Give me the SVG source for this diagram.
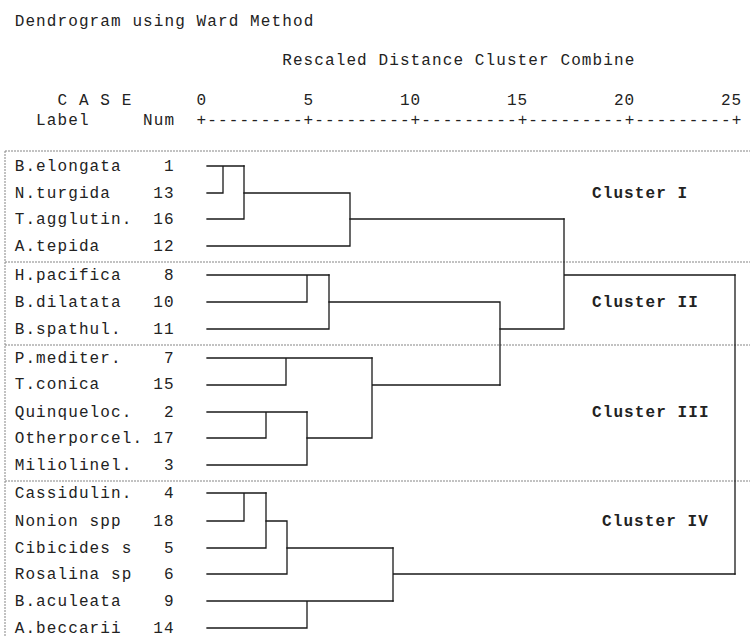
<svg xmlns="http://www.w3.org/2000/svg" width="750" height="637" viewBox="0 0 750 637">
<style>
  text { font-family: "Liberation Mono", "DejaVu Sans Mono", monospace; font-size: 16px; letter-spacing: 1.1px; fill: #222222; }
  .b { font-weight: bold; }
  .sep { stroke: #858585; stroke-width: 1; stroke-dasharray: 2 1; fill: none; }
  .ln { stroke: #1a1a1a; stroke-width: 1.3; fill: none; stroke-linecap: square; }
</style>
<rect width="750" height="637" fill="#ffffff"/>

<g id="header">
  <text x="14.7" y="25.5">Dendrogram using Ward Method</text>
  <text x="282.2" y="65">Rescaled Distance Cluster Combine</text>
  <text x="57.5" y="105">C A S E</text>
  <text x="196.6" y="105">0</text>
  <text x="303.6" y="105">5</text>
  <text x="399.9" y="105">10</text>
  <text x="506.9" y="105">15</text>
  <text x="613.9" y="105">20</text>
  <text x="720.9" y="105">25</text>
  <text x="36.1" y="125">Label</text>
  <text x="143.1" y="125">Num</text>
  <text x="196.6" y="125">+---------+---------+---------+---------+---------+</text>
</g>

<g id="separators">
  <line class="sep" x1="5" y1="151" x2="750" y2="151"/>
  <line class="sep" x1="5" y1="262" x2="750" y2="262"/>
  <line class="sep" x1="5" y1="345" x2="750" y2="345"/>
  <line class="sep" x1="5" y1="481" x2="750" y2="481"/>
  <line class="sep" x1="5" y1="151" x2="5" y2="637"/>
</g>

<g id="leaf-1"><text x="14.7" y="171">B.elongata</text><text x="164" y="171">1</text></g>
<g id="leaf-13"><text x="14.7" y="198">N.turgida</text><text x="153.3" y="198">13</text></g>
<g id="leaf-16"><text x="14.7" y="224">T.agglutin.</text><text x="153.3" y="224">16</text></g>
<g id="leaf-12"><text x="14.7" y="251">A.tepida</text><text x="153.3" y="251">12</text></g>
<g id="leaf-8"><text x="14.7" y="280">H.pacifica</text><text x="164" y="280">8</text></g>
<g id="leaf-10"><text x="14.7" y="307">B.dilatata</text><text x="153.3" y="307">10</text></g>
<g id="leaf-11"><text x="14.7" y="334">B.spathul.</text><text x="153.3" y="334">11</text></g>
<g id="leaf-7"><text x="14.7" y="363">P.mediter.</text><text x="164" y="363">7</text></g>
<g id="leaf-15"><text x="14.7" y="389">T.conica</text><text x="153.3" y="389">15</text></g>
<g id="leaf-2"><text x="14.7" y="417">Quinqueloc.</text><text x="164" y="417">2</text></g>
<g id="leaf-17"><text x="14.7" y="443">Otherporcel.</text><text x="153.3" y="443">17</text></g>
<g id="leaf-3"><text x="14.7" y="470">Miliolinel.</text><text x="164" y="470">3</text></g>
<g id="leaf-4"><text x="14.7" y="498">Cassidulin.</text><text x="164" y="498">4</text></g>
<g id="leaf-18"><text x="14.7" y="526">Nonion spp</text><text x="153.3" y="526">18</text></g>
<g id="leaf-5"><text x="14.7" y="553">Cibicides s</text><text x="164" y="553">5</text></g>
<g id="leaf-6"><text x="14.7" y="579">Rosalina sp</text><text x="164" y="579">6</text></g>
<g id="leaf-9"><text x="14.7" y="606">B.aculeata</text><text x="164" y="606">9</text></g>
<g id="leaf-14"><text x="14.7" y="633">A.beccarii</text><text x="153.3" y="633">14</text></g>

<g id="cluster-I"><text class="b" x="592" y="198">Cluster I</text></g>
<g id="cluster-II"><text class="b" x="592" y="307">Cluster II</text></g>
<g id="cluster-III"><text class="b" x="592" y="417">Cluster III</text></g>
<g id="cluster-IV"><text class="b" x="602" y="526">Cluster IV</text></g>

<g id="connectors">
  <!-- Cluster I -->
  <path class="ln" d="M207 166 H244 M207 193 H223 M223 166 V193"/>
  <path class="ln" d="M244 166 V219 M207 219 H244"/>
  <path class="ln" d="M244 193 H350 M350 193 V246 M207 246 H350"/>
  <path class="ln" d="M350 219 H564"/>
  <!-- Cluster II -->
  <path class="ln" d="M207 275 H329 M207 302 H307 M307 275 V302"/>
  <path class="ln" d="M329 275 V329 M207 329 H329"/>
  <path class="ln" d="M329 302 H500 M500 302 V385"/>
  <!-- Cluster III -->
  <path class="ln" d="M207 358 H372 M207 385 H286 M286 358 V385"/>
  <path class="ln" d="M207 412 H307 M207 438 H266 M266 412 V438"/>
  <path class="ln" d="M307 412 V465 M207 465 H307"/>
  <path class="ln" d="M307 438 H372 M372 358 V438 M372 385 H500"/>
  <!-- II + III, then I -->
  <path class="ln" d="M500 329 H564 M564 219 V329 M564 275 H735"/>
  <!-- Cluster IV -->
  <path class="ln" d="M207 493 H266 M207 521 H244 M244 493 V521"/>
  <path class="ln" d="M266 493 V548 M207 548 H266"/>
  <path class="ln" d="M266 521 H287 M287 521 V574 M207 574 H287"/>
  <path class="ln" d="M287 548 H393"/>
  <path class="ln" d="M207 601 H393 M207 628 H307 M307 601 V628"/>
  <path class="ln" d="M393 548 V601 M393 574 H735"/>
  <!-- Root -->
  <path class="ln" d="M735 275 V574"/>
</g>
</svg>
